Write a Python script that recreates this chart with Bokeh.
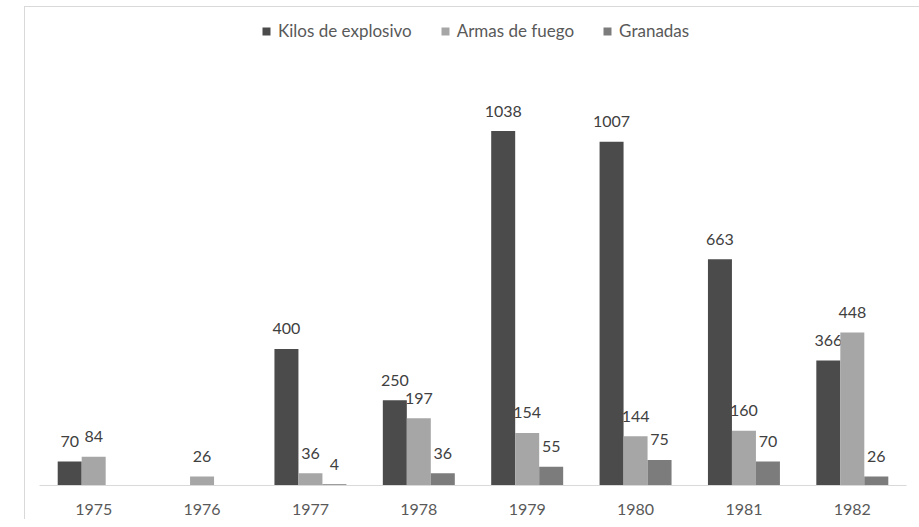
from bokeh.plotting import figure
from bokeh.models import ColumnDataSource, Legend, LegendItem, FactorRange, Range1d
from bokeh.transform import dodge
from bokeh.core.properties import value
from bokeh.embed import file_html
from bokeh.resources import INLINE

years = ["1975", "1976", "1977", "1978", "1979", "1980", "1981", "1982"]
kilos = [70, 0, 400, 250, 1038, 1007, 663, 366]
armas = [84, 26, 36, 197, 154, 144, 160, 448]
granadas = [0, 0, 4, 36, 55, 75, 70, 26]
series_names = ["Kilos de explosivo", "Armas de fuego", "Granadas"]
colors = ["#4b4b4b", "#a6a6a6", "#7c7c7c"]

FONT = "Lato"
BW = 0.2214
offsets = [-BW, 0.0, BW]

p = figure(x_range=FactorRange(factors=years, range_padding=0),
           y_range=Range1d(0, 1400),
           frame_width=867, frame_height=478,
           min_border_left=14, min_border_right=13, min_border_top=0, min_border_bottom=34,
           output_backend="svg", toolbar_location=None)
p.margin = (6, 0, 0, 24)
p.styles = {"border-left": "1px solid #d9d9d9", "border-top": "1px solid #d9d9d9"}
p.outline_line_color = None
p.xgrid.grid_line_color = None
p.ygrid.grid_line_color = None
p.yaxis.visible = False
p.xaxis.axis_line_color = "#d9d9d9"
p.xaxis.major_tick_line_color = None
p.xaxis.minor_tick_line_color = None
p.xaxis.major_label_standoff = 12
p.xaxis.major_label_text_font = FONT
p.xaxis.major_label_text_font_size = "16px"
p.xaxis.major_label_text_color = "#595959"

src = ColumnDataSource(dict(year=years, kilos=kilos, armas=armas, granadas=granadas))
renderers = []
for col, off, c in zip(["kilos", "armas", "granadas"], offsets, colors):
    r = p.vbar(x=dodge("year", off, range=p.x_range), top=col, width=BW, source=src,
               fill_color=c, line_color=None)
    renderers.append(r)
    vals = src.data[col]
    lab = ColumnDataSource(dict(year=[y for y, v in zip(years, vals) if v > 0],
                                val=[v for v in vals if v > 0],
                                txt=[str(v) for v in vals if v > 0]))
    p.text(x=dodge("year", off, range=p.x_range), y="val", text="txt", source=lab,
           text_align="center", text_baseline="alphabetic", y_offset=-20,
           text_font=value(FONT), text_font_size="16px", text_color="#404040")

legend = Legend(items=[LegendItem(label=n, renderers=[r]) for n, r in zip(series_names, renderers)],
                orientation="horizontal", location=(222, 444),
                glyph_width=10, glyph_height=10, label_standoff=7, spacing=28,
                padding=0, margin=0, border_line_color=None, background_fill_alpha=0,
                label_text_font=FONT, label_text_font_size="17px", label_text_color="#595959")
p.add_layout(legend, "center")

open("out.html", "w").write(file_html(p, INLINE))
